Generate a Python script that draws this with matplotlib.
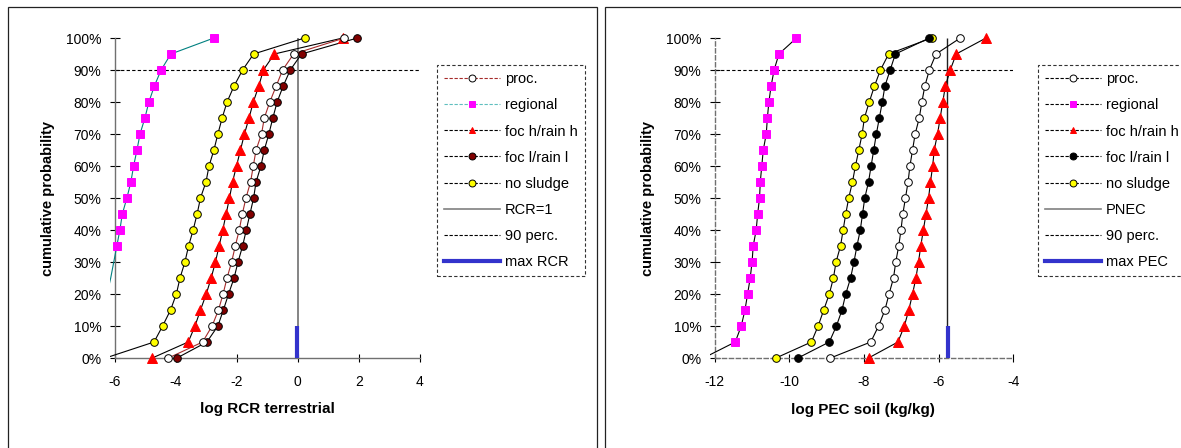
import matplotlib.pyplot as plt
import numpy as np
from matplotlib.lines import Line2D
from matplotlib.patches import Rectangle

plt.rcParams['font.family'] = ['Liberation Sans', 'DejaVu Sans']

# cumulative probability levels
prob = [0.00, 0.05, 0.10, 0.15, 0.20, 0.25, 0.30, 0.35, 0.40, 0.45, 0.50,
        0.55, 0.60, 0.65, 0.70, 0.75, 0.80, 0.85, 0.90, 0.95, 1.00]

# left panel: log RCR terrestrial
rcr_proc = [-4.24, -3.12, -2.81, -2.60, -2.45, -2.32, -2.17, -2.05, -1.92, -1.82, -1.70,
            -1.55, -1.46, -1.37, -1.19, -1.10, -0.92, -0.71, -0.50, -0.14, 1.52]
rcr_regional = [-7.50, -6.90, -6.60, -6.40, -6.25, -6.13, -6.03, -5.93, -5.83, -5.75, -5.60,
                -5.47, -5.38, -5.27, -5.17, -5.01, -4.88, -4.70, -4.48, -4.16, -2.75]
rcr_foc_h = [-4.77, -3.59, -3.37, -3.19, -3.00, -2.84, -2.70, -2.58, -2.46, -2.35, -2.24,
             -2.14, -2.01, -1.88, -1.75, -1.60, -1.46, -1.28, -1.13, -0.77, 1.47]
rcr_foc_l = [-3.96, -2.98, -2.62, -2.44, -2.27, -2.09, -1.96, -1.81, -1.69, -1.57, -1.45,
             -1.37, -1.21, -1.10, -0.95, -0.82, -0.68, -0.48, -0.25, 0.12, 1.95]
rcr_no_sludge = [-6.30, -4.71, -4.43, -4.17, -3.98, -3.86, -3.70, -3.58, -3.43, -3.30, -3.19,
                 -3.01, -2.91, -2.75, -2.62, -2.48, -2.32, -2.09, -1.81, -1.45, 0.22]
rcr_one = 0.0
rcr_max = -0.02

# right panel: log PEC soil (kg/kg)
pec_proc = [-8.90, -7.82, -7.61, -7.44, -7.33, -7.21, -7.15, -7.07, -7.01, -6.96, -6.89,
            -6.82, -6.77, -6.70, -6.63, -6.52, -6.45, -6.37, -6.25, -6.07, -5.42]
pec_regional = [-12.30, -11.45, -11.29, -11.19, -11.12, -11.05, -11.00, -10.97, -10.89, -10.85, -10.80,
                -10.78, -10.74, -10.70, -10.62, -10.59, -10.55, -10.49, -10.41, -10.28, -9.81]
pec_foc_h = [-7.88, -7.09, -6.92, -6.80, -6.70, -6.61, -6.54, -6.48, -6.41, -6.34, -6.27,
             -6.22, -6.16, -6.12, -6.03, -5.96, -5.89, -5.82, -5.69, -5.53, -4.73]
pec_foc_l = [-9.77, -8.93, -8.74, -8.59, -8.49, -8.36, -8.27, -8.19, -8.10, -8.04, -7.98,
             -7.88, -7.81, -7.74, -7.67, -7.59, -7.51, -7.44, -7.30, -7.16, -6.25]
pec_no_sludge = [-10.36, -9.41, -9.23, -9.08, -8.93, -8.82, -8.75, -8.63, -8.56, -8.49, -8.41,
                 -8.31, -8.23, -8.14, -8.05, -7.99, -7.86, -7.72, -7.56, -7.34, -6.19]
pnec = -5.77
pec_max = -5.74

labels_left = ['proc.', 'regional', 'foc h/rain h', 'foc l/rain l', 'no sludge',
               'RCR=1', '90 perc.', 'max RCR']
labels_right = ['proc.', 'regional', 'foc h/rain h', 'foc l/rain l', 'no sludge',
                'PNEC', '90 perc.', 'max PEC']

W, H = 1181, 448
fig = plt.figure(figsize=(W / 100, H / 100), dpi=100)
fig.set_facecolor('white')

# panel frames
fig.patches.append(Rectangle((8 / W, -0.1), (597 - 8) / W, 1.1 - 7 / H, transform=fig.transFigure,
                             fill=False, edgecolor='#222222', lw=0.9))
fig.patches.append(Rectangle((605 / W, -0.1), 0.6, 1.1 - 7 / H, transform=fig.transFigure,
                             fill=False, edgecolor='#222222', lw=0.9))


def series(ax, x, xmin, lcolor, marker, mfc, mec, ms):
    x = np.array(x)
    y = np.array(prob)
    ax.plot(x, y, color=lcolor, lw=0.8, zorder=3)
    m = x >= xmin
    ax.plot(x[m], y[m], ls='none', marker=marker, mfc=mfc, mec=mec, mew=0.7,
            ms=ms, zorder=4, clip_on=False)


def setup(ax, xmin, xmax, edge, ticks, spine_ls):
    ax.set_xlim(edge, xmax)
    ax.set_ylim(-0.05, 1.05)
    for s in ['top', 'right']:
        ax.spines[s].set_visible(False)
    ax.spines['left'].set_position(('data', xmin))
    ax.spines['left'].set_bounds(0, 1)
    ax.spines['bottom'].set_position(('data', 0))
    ax.spines['bottom'].set_bounds(xmin, xmax)
    for s in ['left', 'bottom']:
        ax.spines[s].set_color('#707070')
        ax.spines[s].set_linewidth(1.0)
        ax.spines[s].set_linestyle(spine_ls)
    ax.set_xticks(ticks)
    ax.set_xticklabels([str(t) for t in ticks])
    yt = [i / 10 for i in range(11)]
    ax.set_yticks(yt)
    ax.set_yticklabels(['%d%%' % round(t * 100) for t in yt])
    ax.tick_params(axis='y', direction='inout', length=7, width=0.8, pad=6, labelsize=10)
    ax.tick_params(axis='x', direction='inout', length=6, width=0.8, pad=9, labelsize=10)
    ax.hlines(0.9, xmin, xmax, colors='black', linestyles=(0, (3, 2)), lw=0.8, zorder=2)


def legend_handles(line_colors, mfcs, markers):
    hs = []
    for lc, mf, mk in zip(line_colors, mfcs, markers):
        mec = mf if mk == 's' and mf == '#FF00FF' else 'black'
        if mk == '^':
            mec = '#FF0000'
        hs.append(Line2D([], [], color=lc, lw=0.8, ls=(0, (3, 1.5)), marker=mk,
                         mfc=mf, mec=mec, mew=0.7, ms=5))
    return hs


# ---- left panel
axL = fig.add_axes([110.1 / W, (H - 374) / H, (420 - 110.1) / W, 352 / H])
setup(axL, -6, 4, -6.15, [-6, -4, -2, 0, 2, 4], 'solid')
series(axL, rcr_no_sludge, -6, 'black', 'o', '#FFFF00', 'black', 5.5)
series(axL, rcr_foc_h, -6, 'black', '^', '#FF0000', '#FF0000', 6.5)
series(axL, rcr_foc_l, -6, 'black', 'o', '#800000', 'black', 5.5)
series(axL, rcr_proc, -6, '#A52A2A', 'o', 'white', 'black', 5.5)
series(axL, rcr_regional, -6, '#008080', 's', '#FF00FF', '#FF00FF', 5.5)
axL.vlines(rcr_one, 0, 1, colors='#707070', lw=1.2, zorder=2)
axL.vlines(rcr_max, 0, 0.1, colors='#3333CC', lw=3, zorder=5)

hL = legend_handles(['#A52A2A', '#5FBFBF', 'black', 'black', 'black'],
                    ['white', '#FF00FF', '#FF0000', '#800000', '#FFFF00'],
                    ['o', 's', '^', 'o', 'o'])
hL += [Line2D([], [], color='#808080', lw=1.2),
       Line2D([], [], color='black', lw=0.8, ls=(0, (3, 1.5))),
       Line2D([], [], color='#3333CC', lw=3)]

fig.text(48 / W, 1 - 198 / H, 'cumulative probability', rotation=90, ha='center', va='center',
         fontsize=10.5, fontweight='bold')
fig.text(267 / W, 1 - 409 / H, 'log RCR terrestrial', ha='center', va='center',
         fontsize=11, fontweight='bold')

# ---- right panel
axR = fig.add_axes([709.9 / W, (H - 374) / H, (1013.3 - 709.9) / W, 352 / H])
setup(axR, -12, -4, -12.13, [-12, -10, -8, -6, -4], (0, (3, 2)))
series(axR, pec_no_sludge, -12, 'black', 'o', '#FFFF00', 'black', 5.5)
series(axR, pec_foc_l, -12, 'black', 'o', 'black', 'black', 5.5)
series(axR, pec_proc, -12, 'black', 'o', 'white', 'black', 5.5)
series(axR, pec_foc_h, -12, 'black', '^', '#FF0000', '#FF0000', 6.5)
series(axR, pec_regional, -12, 'black', 's', '#FF00FF', '#FF00FF', 5.5)
axR.vlines(pnec, 0, 1, colors='#202020', lw=1.0, zorder=2)
axR.vlines(pec_max, 0, 0.1, colors='#3333CC', lw=3, zorder=5)

hR = legend_handles(['black'] * 5,
                    ['white', '#FF00FF', '#FF0000', 'black', '#FFFF00'],
                    ['o', 's', '^', 'o', 'o'])
hR += [Line2D([], [], color='#808080', lw=1.2),
       Line2D([], [], color='black', lw=0.8, ls=(0, (3, 1.5))),
       Line2D([], [], color='#3333CC', lw=3)]

fig.text(648 / W, 1 - 198 / H, 'cumulative probability', rotation=90, ha='center', va='center',
         fontsize=10.5, fontweight='bold')
fig.text(863 / W, 1 - 410 / H, 'log PEC soil (kg/kg)', ha='center', va='center',
         fontsize=11, fontweight='bold')

for hs, labs, x0 in [(hL, labels_left, 437), (hR, labels_right, 1038)]:
    leg = fig.legend(hs, labs, loc='upper left', bbox_to_anchor=(x0 / W, 1 - 65 / H),
                     bbox_transform=fig.transFigure, borderaxespad=0, fontsize=10.5,
                     handlelength=3.8, handletextpad=0.35, borderpad=0.5,
                     labelspacing=0.83, fancybox=False, framealpha=1)
    fr = leg.get_frame()
    fr.set_edgecolor('#333333')
    fr.set_linewidth(0.8)
    fr.set_linestyle((0, (3, 2)))

plt.savefig('out.png', dpi=100)
